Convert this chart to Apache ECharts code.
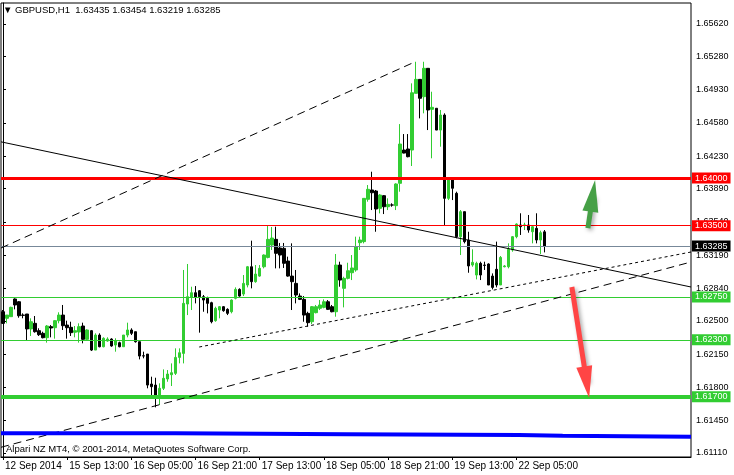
<!DOCTYPE html>
<html><head><meta charset="utf-8">
<script src="https://cdn.jsdelivr.net/npm/echarts@6/dist/echarts.min.js"></script>
<style>html,body{margin:0;padding:0;background:#fff}#c{width:734px;height:475px}</style>
</head><body><div id="c"></div>
<script>
const headerText = '\u25BC GBPUSD,H1  1.63435 1.63454 1.63219 1.63285';
const footerText = 'Alpari NZ MT4, \u00A9 2001-2014, MetaQuotes Software Corp.';

// trading sessions (day label, first hour, last hour) used for hourly categories
const sessions = [['12 Sep',21,23],['15 Sep',0,23],['16 Sep',0,23],['17 Sep',0,23],['18 Sep',0,23],['19 Sep',0,23],['22 Sep',0,23],['23 Sep',0,23],['24 Sep',0,0]];
const xTickLabels = ['12 Sep 2014','15 Sep 13:00','16 Sep 05:00','16 Sep 21:00','17 Sep 13:00','18 Sep 05:00','18 Sep 21:00','19 Sep 13:00','22 Sep 05:00'];
const yTickValues = [1.65620,1.65280,1.64930,1.64580,1.64230,1.63890,1.63540,1.63190,1.62840,1.62500,1.62150,1.61800,1.61450,1.61110];

const open = [
1.62595,1.62526,1.62543,1.62729,1.62700,1.62560,1.62571,1.62414,1.62473,1.62396,
1.62368,1.62322,1.62438,1.62427,1.62501,1.62560,1.62455,1.62431,1.62379,1.62382,
1.62445,1.62305,1.62396,1.62192,1.62350,1.62227,1.62287,1.62308,1.62245,1.62270,
1.62227,1.62350,1.62403,1.62385,1.62280,1.62132,1.62150,1.61835,1.61824,1.61702,
1.61790,1.61888,1.61933,1.61947,1.62115,1.62157,1.62676,1.62746,1.62795,1.62816,
1.62753,1.62736,1.62690,1.62501,1.62613,1.62648,1.62620,1.62595,1.62736,1.62830,
1.62781,1.62876,1.63068,1.62911,1.62970,1.63068,1.63166,1.63296,1.63356,1.63265,
1.63261,1.63128,1.62970,1.62893,1.62760,1.62725,1.62578,1.62490,1.62585,1.62631,
1.62641,1.62700,1.62648,1.62595,1.63086,1.62841,1.62946,1.63005,1.63034,1.63321,
1.63332,1.63777,1.63875,1.63864,1.63682,1.63815,1.63699,1.63717,1.63710,1.63945,
1.64295,1.64306,1.64295,1.64891,1.65038,1.64856,1.65154,1.64723,1.64734,1.64505,
1.64663,1.63787,1.63980,1.63840,1.63384,1.63647,1.63349,1.63086,1.62981,1.63104,
1.63086,1.63097,1.62970,1.63041,1.62876,1.63068,1.63068,1.63244,1.63384,1.63507,
1.63507,1.63507,1.63436,1.63472,1.63349,1.63435];
const high = [
1.62613,1.62560,1.62648,1.62736,1.62707,1.62578,1.62571,1.62526,1.62550,1.62421,
1.62385,1.62455,1.62455,1.62508,1.62589,1.62666,1.62501,1.62490,1.62445,1.62473,
1.62480,1.62410,1.62403,1.62368,1.62368,1.62326,1.62326,1.62316,1.62316,1.62280,
1.62350,1.62480,1.62421,1.62385,1.62280,1.62175,1.62150,1.61912,1.61901,1.61842,
1.61989,1.61982,1.62052,1.62210,1.62210,1.63034,1.63097,1.62858,1.62865,1.62823,
1.62771,1.62753,1.62700,1.62648,1.62655,1.62655,1.62631,1.62725,1.62851,1.62841,
1.62981,1.63076,1.63342,1.63086,1.63086,1.63198,1.63496,1.63486,1.63489,1.63318,
1.63318,1.63174,1.63314,1.63034,1.62788,1.62760,1.62595,1.62655,1.62666,1.62718,
1.62725,1.62718,1.62666,1.63202,1.63121,1.62963,1.63110,1.63191,1.63384,1.63384,
1.63787,1.63927,1.64067,1.63875,1.63832,1.63822,1.63787,1.63735,1.63945,1.64568,
1.64463,1.64463,1.64996,1.65223,1.65038,1.65223,1.65154,1.64908,1.64734,1.64716,
1.64681,1.63998,1.63998,1.63857,1.63664,1.63647,1.63436,1.63251,1.63121,1.63121,
1.63121,1.63104,1.62998,1.63332,1.63181,1.63086,1.63314,1.63391,1.63524,1.63630,
1.63531,1.63612,1.63507,1.63630,1.63447,1.63454];
const low = [
1.62466,1.62473,1.62543,1.62620,1.62532,1.62526,1.62291,1.62340,1.62375,1.62340,
1.62315,1.62270,1.62326,1.62312,1.62473,1.62403,1.62312,1.62340,1.62326,1.62270,
1.62263,1.62298,1.62182,1.62192,1.62221,1.62221,1.62280,1.62227,1.62175,1.62221,
1.62227,1.62326,1.62350,1.62270,1.62094,1.62105,1.61790,1.61702,1.61590,1.61615,
1.61772,1.61859,1.61814,1.61930,1.62052,1.62052,1.62560,1.62613,1.62683,1.62375,
1.62595,1.62578,1.62473,1.62490,1.62526,1.62595,1.62560,1.62578,1.62725,1.62753,
1.62760,1.62851,1.62841,1.62900,1.62963,1.63051,1.63156,1.63244,1.63051,1.63051,
1.63055,1.62963,1.62613,1.62683,1.62718,1.62490,1.62438,1.62466,1.62578,1.62613,
1.62631,1.62613,1.62589,1.62543,1.62858,1.62641,1.62935,1.62928,1.63016,1.63244,
1.63314,1.63752,1.63664,1.63436,1.63629,1.63622,1.63664,1.63699,1.63664,1.63857,
1.64260,1.64218,1.64127,1.64891,1.64628,1.64681,1.64505,1.64208,1.64505,1.64330,
1.63507,1.63769,1.63769,1.63367,1.63191,1.63314,1.63005,1.63068,1.62935,1.62928,
1.63034,1.62876,1.62830,1.62851,1.62876,1.63062,1.63051,1.63226,1.63367,1.63402,
1.63454,1.63426,1.63314,1.63314,1.63202,1.63219];
const close = [
1.62473,1.62560,1.62641,1.62666,1.62553,1.62557,1.62414,1.62490,1.62385,1.62354,
1.62322,1.62445,1.62424,1.62501,1.62560,1.62448,1.62427,1.62375,1.62396,1.62438,
1.62305,1.62403,1.62192,1.62350,1.62227,1.62316,1.62308,1.62235,1.62291,1.62227,
1.62350,1.62403,1.62368,1.62280,1.62129,1.62129,1.61824,1.61807,1.61702,1.61790,
1.61895,1.61940,1.61954,1.62115,1.62164,1.62683,1.62753,1.62795,1.62746,1.62753,
1.62718,1.62683,1.62490,1.62631,1.62648,1.62606,1.62578,1.62718,1.62830,1.62760,
1.62893,1.63068,1.62911,1.62991,1.63051,1.63191,1.63356,1.63370,1.63209,1.63191,
1.63104,1.62970,1.62911,1.62771,1.62725,1.62560,1.62480,1.62648,1.62648,1.62666,
1.62700,1.62620,1.62595,1.63086,1.62928,1.62946,1.63026,1.63055,1.63279,1.63349,
1.63787,1.63882,1.63846,1.63675,1.63822,1.63699,1.63724,1.63717,1.63938,1.64358,
1.64263,1.64225,1.64897,1.65038,1.64839,1.65154,1.64716,1.64744,1.64505,1.64663,
1.63787,1.63980,1.63893,1.63384,1.63647,1.63332,1.63076,1.63114,1.63104,1.62981,
1.63082,1.62876,1.62851,1.62876,1.63166,1.63076,1.63251,1.63384,1.63517,1.63489,
1.63507,1.63454,1.63489,1.63349,1.63426,1.63285];

// horizontal price levels
const levelValues = [1.64000, 1.63500, 1.63285, 1.62750, 1.62300, 1.61700];
// trend lines: [barIndex, price] end points
const trendSolid = [[-0.5, 1.64381], [171.5, 1.62855]];
const trendDashUpper = [[-0.5, 1.63265], [102.6, 1.65220]];
const trendDashLower = [[-0.5, 1.61170], [171.5, 1.63118]];
const trendDotted = [[48.9, 1.62224], [171.5, 1.63223]];
// blue indicator line (step points)
const blueX = [-0.5, 43, 85.6, 128.6, 139.5, 171.5];
const blueY = [1.61318, 1.61308, 1.61298, 1.61290, 1.61282, 1.61282];
// arrows: tail and head-centre
const arrowUp = [[145.8, 1.63475], [147.0, 1.63814]];
const arrowDown = [[141.8, 1.62855], [145.5, 1.61854]];

// ---- build categories ----
const categories = [];
sessions.forEach(s => { for (let h = s[1]; h <= s[2]; h++) categories.push(s[0] + ' ' + String(h).padStart(2,'0') + ':00'); });
const N = categories.length;

const candles = open.map((o, i) => [o, close[i], low[i], high[i]]);

const FONT = 'Liberation Sans, Arial, sans-serif';
const levelStyle = [
  {color:'#ff0000', width:3, bg:'#ff0000'},
  {color:'#ff0000', width:1, bg:'#ff0000'},
  {color:'#778899', width:1, bg:'#000000'},
  {color:'#32cd32', width:1, bg:'#32cd32'},
  {color:'#32cd32', width:1, bg:'#32cd32'},
  {color:'#32cd32', width:4, bg:'#32cd32'}
];
const arrowShadow = {shadowColor: 'rgba(0,0,0,0.35)', shadowBlur: 4, shadowOffsetX: 2, shadowOffsetY: 2};

const chart = echarts.init(document.getElementById('c'), null, {renderer:'canvas'});
const tickFn = (idx) => idx % 16 === 0 && idx / 16 < xTickLabels.length;

chart.setOption({
  animation: false,
  backgroundColor: '#ffffff',
  textStyle: {fontFamily: FONT},
  title: {text: headerText, left: 3, top: 5, padding: 0, textStyle: {fontSize: 9.5, fontWeight: 'normal', color: '#000', fontFamily: FONT}},
  graphic: [{type:'text', left: 6, top: 444, style: {text: footerText, fontSize: 9.5, fill: '#000', fontFamily: FONT}}],
  grid: {left: 1, right: 43, top: 3, bottom: 18, show: true, borderColor: '#000', borderWidth: 1, containLabel: false},
  xAxis: [
    {type: 'category', data: categories, boundaryGap: true,
     axisLine: {show: true, lineStyle: {color: '#000'}},
     axisTick: {show: true, interval: tickFn, alignWithLabel: true, length: 3, lineStyle: {color: '#000'}},
     axisLabel: {show: true, interval: tickFn, align: 'left', margin: 4, padding: [0,0,0,2], fontSize: 10, color: '#000', fontFamily: FONT,
       formatter: (v, idx) => xTickLabels[idx / 16] || ''},
     splitLine: {show: false}},
    {type: 'value', min: -0.5, max: N - 0.5, show: false}
  ],
  yAxis: {type: 'value', position: 'right', min: 1.610678, max: 1.658408, scale: true,
    axisLine: {show: true, lineStyle: {color: '#000'}},
    axisTick: {show: true, length: 3, customValues: yTickValues, lineStyle: {color: '#000'}},
    axisLabel: {show: true, margin: 5, fontSize: 9, color: '#000', fontFamily: FONT, customValues: yTickValues,
      formatter: v => v.toFixed(5)},
    splitLine: {show: false}},
  series: [
    {type: 'candlestick', xAxisIndex: 0, data: candles, barWidth: 3, z: 3,
     itemStyle: {color: '#32cd32', color0: '#000000', borderColor: '#32cd32', borderColor0: '#000000', borderWidth: 1},
     markLine: {silent: true, symbol: 'none', precision: 5, z: 4,
       data: levelValues.map((v, i) => ({yAxis: v,
         lineStyle: {color: levelStyle[i].color, width: levelStyle[i].width, type: 'solid'},
         label: {show: true, position: 'end', distance: 1, formatter: v.toFixed(5), color: '#fff', fontSize: 9, fontFamily: FONT,
                 backgroundColor: levelStyle[i].bg, padding: [1, 3, 1, 3]}}))}},
    {type: 'line', xAxisIndex: 1, data: trendSolid, symbol: 'none', z: 5, lineStyle: {color: '#000', width: 1}, clip: true,
     markLine: {silent: true, symbol: ['none', 'triangle'], symbolSize: [16, 32], precision: 5, z: 6,
       data: [
         [{coord: arrowUp[0], lineStyle: Object.assign({color: '#46a046', width: 5, type: 'solid'}, arrowShadow), itemStyle: {color: '#46a046'}},
          {coord: arrowUp[1]}],
         [{coord: arrowDown[0], lineStyle: Object.assign({color: '#ff4545', width: 5, type: 'solid'}, arrowShadow), itemStyle: {color: '#ff4545'}},
          {coord: arrowDown[1]}]
       ],
       label: {show: false}}},
    {type: 'line', xAxisIndex: 1, data: trendDashUpper, symbol: 'none', z: 5, lineStyle: {color: '#000', width: 1, type: [8, 5]}, clip: true},
    {type: 'line', xAxisIndex: 1, data: trendDashLower, symbol: 'none', z: 5, lineStyle: {color: '#000', width: 1, type: [8, 5]}, clip: true},
    {type: 'line', xAxisIndex: 1, data: trendDotted, symbol: 'none', z: 5, lineStyle: {color: '#000', width: 1, type: [3, 3]}, clip: true},
    {type: 'line', xAxisIndex: 1, data: blueX.map((x, i) => [x, blueY[i]]), step: 'end', symbol: 'none', z: 5, lineStyle: {color: '#0000ff', width: 4}, clip: true}
  ]
});
</script>
</body></html>
